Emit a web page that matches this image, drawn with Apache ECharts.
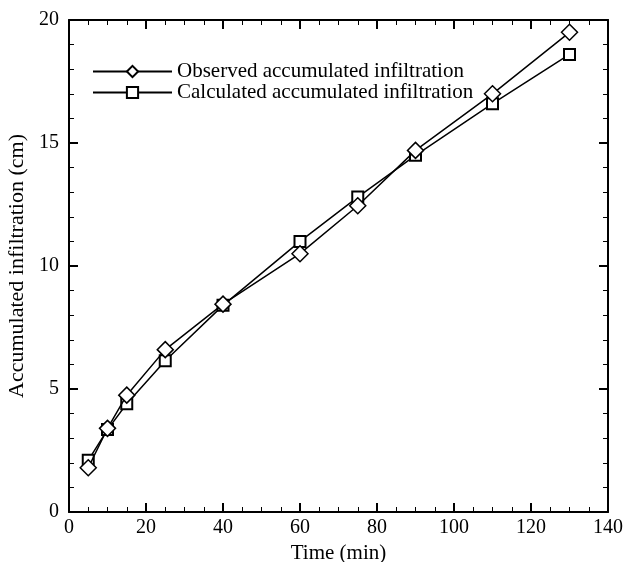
<!DOCTYPE html>
<html><head><meta charset="utf-8">
<script src="https://cdn.jsdelivr.net/npm/echarts@6/dist/echarts.min.js"></script>
<style>html,body{margin:0;padding:0;background:#fff}#c{width:626px;height:562px}</style>
</head><body><div id="c"></div>
<script>
const times = [5, 10, 15, 25, 40, 60, 75, 90, 110, 130];
const observed = [1.8, 3.4, 4.75, 6.6, 8.45, 10.5, 12.45, 14.7, 17.0, 19.5];
const calculated = [2.1, 3.35, 4.4, 6.15, 8.4, 11.0, 12.8, 14.5, 16.6, 18.6];
const seriesNames = ['Observed accumulated infiltration', 'Calculated accumulated infiltration'];

const font = 'Liberation Serif, Times New Roman, serif';
const chart = echarts.init(document.getElementById('c'));
function pairs(v){ return times.map((t,i)=>[t, v[i]]); }
function axisStyle(split){
  return {
    axisLine:{show:true, onZero:false, lineStyle:{color:'#000', width:2}},
    axisTick:{show:true, inside:true, length:9, lineStyle:{color:'#000', width:2}},
    minorTick:{show:true, splitNumber:split, length:5, lineStyle:{color:'#000', width:1}},
    splitLine:{show:false}
  };
}
chart.setOption({
  animation:false,
  backgroundColor:'#fff',
  grid:{left:69, right:18, top:20, bottom:50, containLabel:false, outerBoundsMode:'none'},
  legend:{
    left:87, top:56, orient:'vertical', itemWidth:79, itemHeight:14, itemGap:0,
    textStyle:{fontFamily:font, fontSize:21, color:'#000'},
    data:seriesNames
  },
  xAxis:[
    Object.assign({type:'value', min:0, max:140, interval:20, position:'bottom',
      name:'Time (min)', nameLocation:'middle', nameGap:30,
      nameTextStyle:{fontFamily:font, fontSize:21, color:'#000'},
      axisLabel:{fontFamily:font, fontSize:20, color:'#000', margin:6}}, axisStyle(4)),
    Object.assign({type:'value', min:0, max:140, interval:20, position:'top',
      axisLabel:{show:false}}, axisStyle(4))
  ],
  yAxis:[
    Object.assign({type:'value', min:0, max:20, interval:5, position:'left',
      name:'Accumulated infiltration (cm)', nameLocation:'middle', nameGap:38,
      nameTextStyle:{fontFamily:font, fontSize:22, color:'#000'},
      axisLabel:{fontFamily:font, fontSize:20, color:'#000', margin:10}}, axisStyle(5)),
    Object.assign({type:'value', min:0, max:20, interval:5, position:'right',
      axisLabel:{show:false}}, axisStyle(5))
  ],
  series:[
    {name:seriesNames[0], type:'line', data:pairs(observed), symbol:'diamond', symbolSize:16,
     lineStyle:{color:'#000', width:1.5}, itemStyle:{color:'#fff', borderColor:'#000', borderWidth:1.5}, z:3},
    {name:seriesNames[1], type:'line', data:pairs(calculated), symbol:'rect', symbolSize:11,
     lineStyle:{color:'#000', width:1.5}, itemStyle:{color:'#fff', borderColor:'#000', borderWidth:2}, z:2}
  ]
});
</script></body></html>
